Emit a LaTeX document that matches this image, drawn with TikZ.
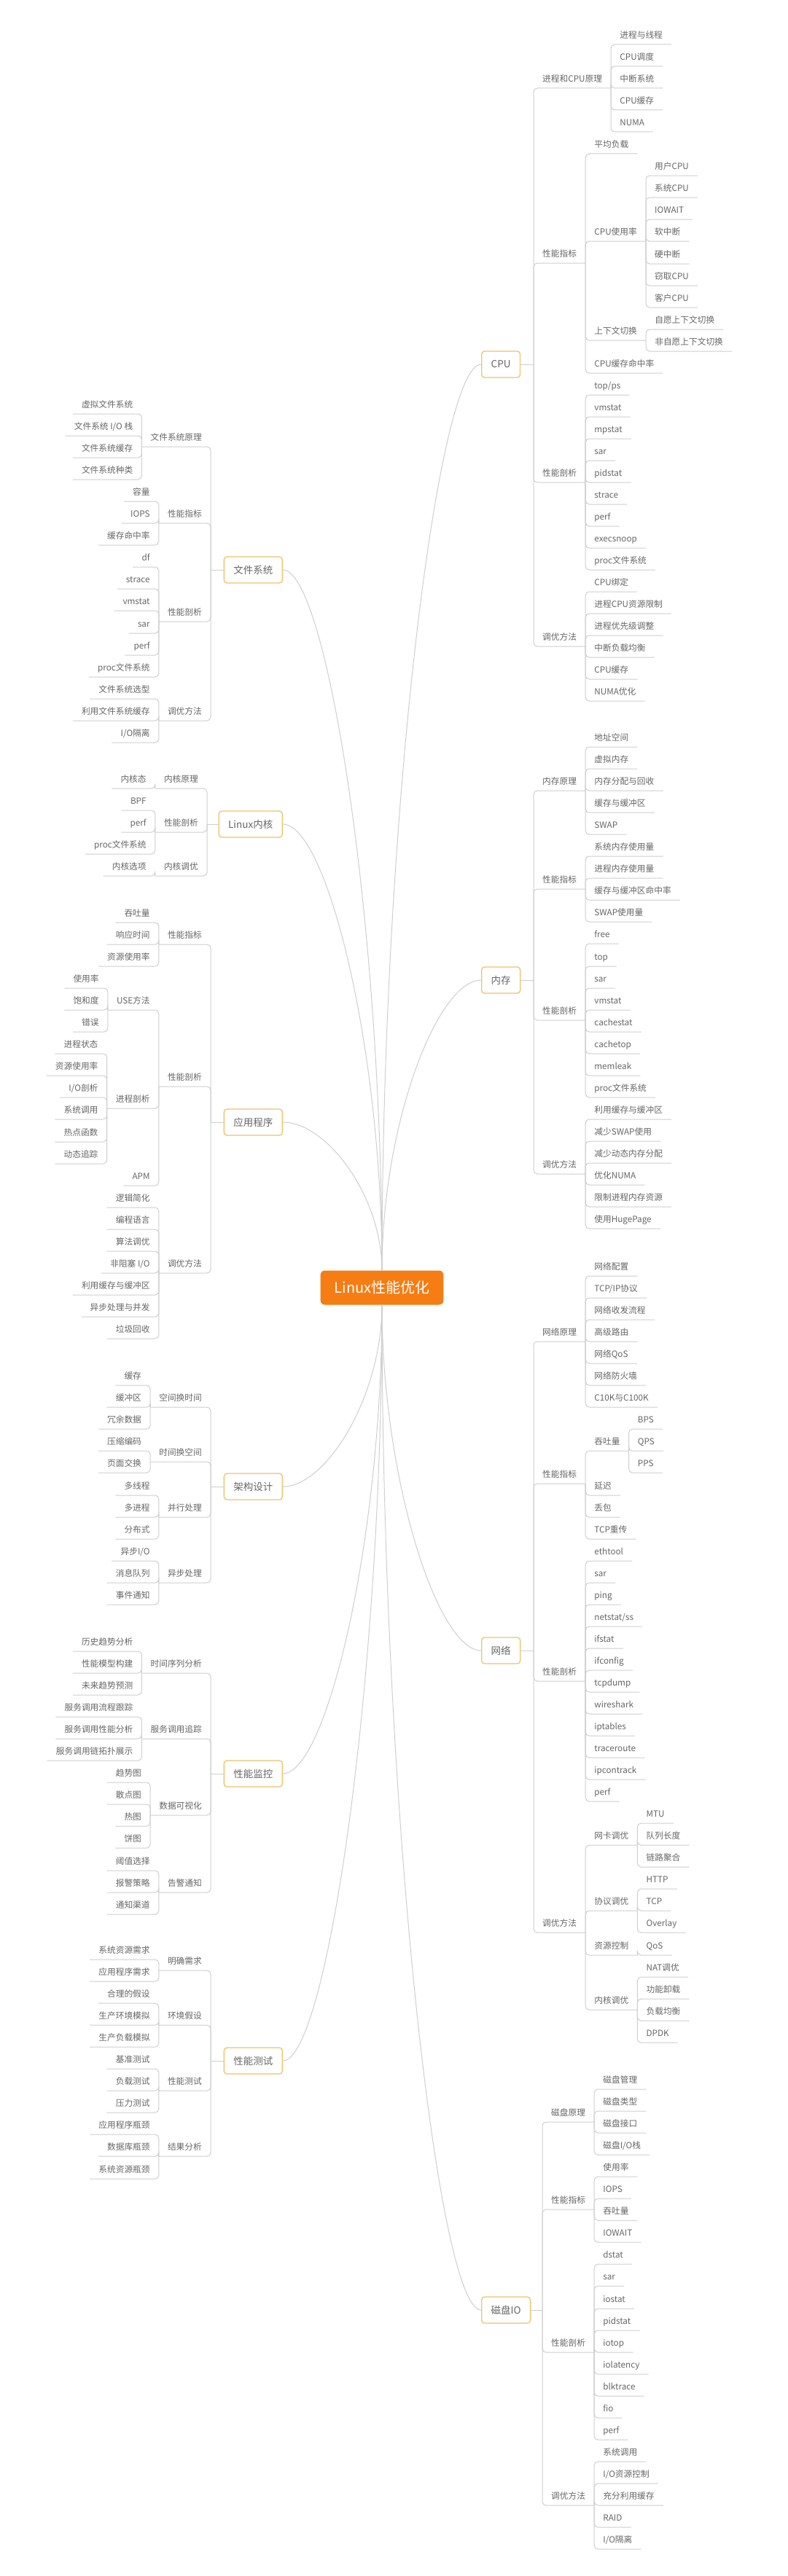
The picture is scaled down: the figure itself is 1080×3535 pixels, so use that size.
\documentclass[tikz,border=0pt]{standalone}
\usepackage{fontspec}
\setmainfont{Noto Sans CJK SC}
\usepackage{tikz}
\definecolor{txtgray}{HTML}{666666}
\definecolor{linegray}{HTML}{CFCFCF}
\definecolor{topicgold}{HTML}{F0C36A}
\definecolor{rootorange}{HTML}{F57D14}
\tikzset{root/.style={rounded corners=6pt,fill=rootorange,text=white,font=\fontsize{20}{24}\selectfont,minimum height=47pt,inner xsep=19pt}}
\tikzset{topic/.style={draw=topicgold,line width=1.3pt,rounded corners=4pt,fill=white,text=txtgray,font=\fontsize{13.5}{16}\selectfont,minimum height=36pt,inner xsep=13pt}}
\tikzset{item/.style={text=txtgray,font=\fontsize{11.7}{14}\selectfont,inner xsep=12pt,inner ysep=5pt,text height=9pt,text depth=3pt}}
\tikzset{ri/.style={item,anchor=south west},li/.style={item,anchor=south east}}
\tikzset{link/.style={draw=linegray,line width=1pt}}
\tikzset{rt/.style={rounded corners=5pt,to path={|- (\tikztotarget.south east)}},lt/.style={rounded corners=5pt,to path={|- (\tikztotarget.south west)}}}
\begin{document}
\begin{tikzpicture}[x=1pt,y=-1pt]
    \fill[white] (0,0) rectangle (1080,3535);
    \useasboundingbox (0,0) rectangle (1080,3535);

    \node[root] (root) at (524,1767) {Linux性能优化};

    % CPU
    \node[topic,anchor=west] (cpu) at (660,500) {CPU};
    \node[ri] (cpu1) at (732,121) {进程和CPU原理};
    \node[ri] (cpu1a) at (cpu1.south east |- 0,61) {进程与线程};
    \node[ri] (cpu1b) at (cpu1.south east |- 0,91) {CPU调度};
    \node[ri] (cpu1c) at (cpu1.south east |- 0,121) {中断系统};
    \node[ri] (cpu1d) at (cpu1.south east |- 0,151) {CPU缓存};
    \node[ri] (cpu1e) at (cpu1.south east |- 0,181) {NUMA};
    \node[ri] (cpu2) at (732,361) {性能指标};
    \node[ri] (cpu2a) at (cpu2.south east |- 0,211) {平均负载};
    \node[ri] (cpu2b) at (cpu2.south east |- 0,331) {CPU使用率};
    \node[ri] (cpu2ba) at (cpu2b.south east |- 0,241) {用户CPU};
    \node[ri] (cpu2bb) at (cpu2b.south east |- 0,271) {系统CPU};
    \node[ri] (cpu2bc) at (cpu2b.south east |- 0,301) {IOWAIT};
    \node[ri] (cpu2bd) at (cpu2b.south east |- 0,331) {软中断};
    \node[ri] (cpu2be) at (cpu2b.south east |- 0,362) {硬中断};
    \node[ri] (cpu2bf) at (cpu2b.south east |- 0,392) {窃取CPU};
    \node[ri] (cpu2bg) at (cpu2b.south east |- 0,422) {客户CPU};
    \node[ri] (cpu2c) at (cpu2.south east |- 0,467) {上下文切换};
    \node[ri] (cpu2ca) at (cpu2c.south east |- 0,452) {自愿上下文切换};
    \node[ri] (cpu2cb) at (cpu2c.south east |- 0,482) {非自愿上下文切换};
    \node[ri] (cpu2d) at (cpu2.south east |- 0,512) {CPU缓存命中率};
    \node[ri] (cpu3) at (732,662) {性能剖析};
    \node[ri] (cpu3a) at (cpu3.south east |- 0,542) {top/ps};
    \node[ri] (cpu3b) at (cpu3.south east |- 0,572) {vmstat};
    \node[ri] (cpu3c) at (cpu3.south east |- 0,602) {mpstat};
    \node[ri] (cpu3d) at (cpu3.south east |- 0,632) {sar};
    \node[ri] (cpu3e) at (cpu3.south east |- 0,662) {pidstat};
    \node[ri] (cpu3f) at (cpu3.south east |- 0,692) {strace};
    \node[ri] (cpu3g) at (cpu3.south east |- 0,722) {perf};
    \node[ri] (cpu3h) at (cpu3.south east |- 0,752) {execsnoop};
    \node[ri] (cpu3i) at (cpu3.south east |- 0,782) {proc文件系统};
    \node[ri] (cpu4) at (732,887) {调优方法};
    \node[ri] (cpu4a) at (cpu4.south east |- 0,812) {CPU绑定};
    \node[ri] (cpu4b) at (cpu4.south east |- 0,842) {进程CPU资源限制};
    \node[ri] (cpu4c) at (cpu4.south east |- 0,872) {进程优先级调整};
    \node[ri] (cpu4d) at (cpu4.south east |- 0,902) {中断负载均衡};
    \node[ri] (cpu4e) at (cpu4.south east |- 0,932) {CPU缓存};
    \node[ri] (cpu4f) at (cpu4.south east |- 0,962) {NUMA优化};

    % 内存
    \node[topic,anchor=west] (mem) at (660,1345) {内存};
    \node[ri] (mem1) at (732,1085) {内存原理};
    \node[ri] (mem1a) at (mem1.south east |- 0,1025) {地址空间};
    \node[ri] (mem1b) at (mem1.south east |- 0,1055) {虚拟内存};
    \node[ri] (mem1c) at (mem1.south east |- 0,1085) {内存分配与回收};
    \node[ri] (mem1d) at (mem1.south east |- 0,1115) {缓存与缓冲区};
    \node[ri] (mem1e) at (mem1.south east |- 0,1145) {SWAP};
    \node[ri] (mem2) at (732,1220) {性能指标};
    \node[ri] (mem2a) at (mem2.south east |- 0,1175) {系统内存使用量};
    \node[ri] (mem2b) at (mem2.south east |- 0,1205) {进程内存使用量};
    \node[ri] (mem2c) at (mem2.south east |- 0,1235) {缓存与缓冲区命中率};
    \node[ri] (mem2d) at (mem2.south east |- 0,1265) {SWAP使用量};
    \node[ri] (mem3) at (732,1400) {性能剖析};
    \node[ri] (mem3a) at (mem3.south east |- 0,1295) {free};
    \node[ri] (mem3b) at (mem3.south east |- 0,1326) {top};
    \node[ri] (mem3c) at (mem3.south east |- 0,1356) {sar};
    \node[ri] (mem3d) at (mem3.south east |- 0,1386) {vmstat};
    \node[ri] (mem3e) at (mem3.south east |- 0,1416) {cachestat};
    \node[ri] (mem3f) at (mem3.south east |- 0,1446) {cachetop};
    \node[ri] (mem3g) at (mem3.south east |- 0,1476) {memleak};
    \node[ri] (mem3h) at (mem3.south east |- 0,1506) {proc文件系统};
    \node[ri] (mem4) at (732,1611) {调优方法};
    \node[ri] (mem4a) at (mem4.south east |- 0,1536) {利用缓存与缓冲区};
    \node[ri] (mem4b) at (mem4.south east |- 0,1566) {减少SWAP使用};
    \node[ri] (mem4c) at (mem4.south east |- 0,1596) {减少动态内存分配};
    \node[ri] (mem4d) at (mem4.south east |- 0,1626) {优化NUMA};
    \node[ri] (mem4e) at (mem4.south east |- 0,1656) {限制进程内存资源};
    \node[ri] (mem4f) at (mem4.south east |- 0,1686) {使用HugePage};

    % 网络
    \node[topic,anchor=west] (net) at (660,2265) {网络};
    \node[ri] (net1) at (732,1841) {网络原理};
    \node[ri] (net1a) at (net1.south east |- 0,1751) {网络配置};
    \node[ri] (net1b) at (net1.south east |- 0,1781) {TCP/IP协议};
    \node[ri] (net1c) at (net1.south east |- 0,1811) {网络收发流程};
    \node[ri] (net1d) at (net1.south east |- 0,1841) {高级路由};
    \node[ri] (net1e) at (net1.south east |- 0,1871) {网络QoS};
    \node[ri] (net1f) at (net1.south east |- 0,1901) {网络防火墙};
    \node[ri] (net1g) at (net1.south east |- 0,1931) {C10K与C100K};
    \node[ri] (net2) at (732,2036) {性能指标};
    \node[ri] (net2a) at (net2.south east |- 0,1991) {吞吐量};
    \node[ri] (net2aa) at (net2a.south east |- 0,1961) {BPS};
    \node[ri] (net2ab) at (net2a.south east |- 0,1991) {QPS};
    \node[ri] (net2ac) at (net2a.south east |- 0,2021) {PPS};
    \node[ri] (net2b) at (net2.south east |- 0,2052) {延迟};
    \node[ri] (net2c) at (net2.south east |- 0,2082) {丢包};
    \node[ri] (net2d) at (net2.south east |- 0,2112) {TCP重传};
    \node[ri] (net3) at (732,2307) {性能剖析};
    \node[ri] (net3a) at (net3.south east |- 0,2142) {ethtool};
    \node[ri] (net3b) at (net3.south east |- 0,2172) {sar};
    \node[ri] (net3c) at (net3.south east |- 0,2202) {ping};
    \node[ri] (net3d) at (net3.south east |- 0,2232) {netstat/ss};
    \node[ri] (net3e) at (net3.south east |- 0,2262) {ifstat};
    \node[ri] (net3f) at (net3.south east |- 0,2292) {ifconfig};
    \node[ri] (net3g) at (net3.south east |- 0,2322) {tcpdump};
    \node[ri] (net3h) at (net3.south east |- 0,2352) {wireshark};
    \node[ri] (net3i) at (net3.south east |- 0,2382) {iptables};
    \node[ri] (net3j) at (net3.south east |- 0,2412) {traceroute};
    \node[ri] (net3k) at (net3.south east |- 0,2442) {ipcontrack};
    \node[ri] (net3l) at (net3.south east |- 0,2472) {perf};
    \node[ri] (net4) at (732,2652) {调优方法};
    \node[ri] (net4a) at (net4.south east |- 0,2532) {网卡调优};
    \node[ri] (net4aa) at (net4a.south east |- 0,2502) {MTU};
    \node[ri] (net4ab) at (net4a.south east |- 0,2532) {队列长度};
    \node[ri] (net4ac) at (net4a.south east |- 0,2562) {链路聚合};
    \node[ri] (net4b) at (net4.south east |- 0,2622) {协议调优};
    \node[ri] (net4ba) at (net4b.south east |- 0,2592) {HTTP};
    \node[ri] (net4bb) at (net4b.south east |- 0,2622) {TCP};
    \node[ri] (net4bc) at (net4b.south east |- 0,2652) {Overlay};
    \node[ri] (net4c) at (net4.south east |- 0,2683) {资源控制};
    \node[ri] (net4ca) at (net4c.south east |- 0,2683) {QoS};
    \node[ri] (net4d) at (net4.south east |- 0,2758) {内核调优};
    \node[ri] (net4da) at (net4d.south east |- 0,2713) {NAT调优};
    \node[ri] (net4db) at (net4d.south east |- 0,2743) {功能卸载};
    \node[ri] (net4dc) at (net4d.south east |- 0,2773) {负载均衡};
    \node[ri] (net4dd) at (net4d.south east |- 0,2803) {DPDK};

    % 磁盘IO
    \node[topic,anchor=west] (disk) at (660,3170) {磁盘IO};
    \node[ri] (disk1) at (744,2912) {磁盘原理};
    \node[ri] (disk1a) at (disk1.south east |- 0,2867) {磁盘管理};
    \node[ri] (disk1b) at (disk1.south east |- 0,2897) {磁盘类型};
    \node[ri] (disk1c) at (disk1.south east |- 0,2927) {磁盘接口};
    \node[ri] (disk1d) at (disk1.south east |- 0,2957) {磁盘I/O栈};
    \node[ri] (disk2) at (744,3032) {性能指标};
    \node[ri] (disk2a) at (disk2.south east |- 0,2987) {使用率};
    \node[ri] (disk2b) at (disk2.south east |- 0,3017) {IOPS};
    \node[ri] (disk2c) at (disk2.south east |- 0,3047) {吞吐量};
    \node[ri] (disk2d) at (disk2.south east |- 0,3077) {IOWAIT};
    \node[ri] (disk3) at (744,3228) {性能剖析};
    \node[ri] (disk3a) at (disk3.south east |- 0,3107) {dstat};
    \node[ri] (disk3b) at (disk3.south east |- 0,3137) {sar};
    \node[ri] (disk3c) at (disk3.south east |- 0,3168) {iostat};
    \node[ri] (disk3d) at (disk3.south east |- 0,3198) {pidstat};
    \node[ri] (disk3e) at (disk3.south east |- 0,3228) {iotop};
    \node[ri] (disk3f) at (disk3.south east |- 0,3258) {iolatency};
    \node[ri] (disk3g) at (disk3.south east |- 0,3288) {blktrace};
    \node[ri] (disk3h) at (disk3.south east |- 0,3318) {fio};
    \node[ri] (disk3i) at (disk3.south east |- 0,3348) {perf};
    \node[ri] (disk4) at (744,3438) {调优方法};
    \node[ri] (disk4a) at (disk4.south east |- 0,3378) {系统调用};
    \node[ri] (disk4b) at (disk4.south east |- 0,3408) {I/O资源控制};
    \node[ri] (disk4c) at (disk4.south east |- 0,3438) {充分利用缓存};
    \node[ri] (disk4d) at (disk4.south east |- 0,3468) {RAID};
    \node[ri] (disk4e) at (disk4.south east |- 0,3498) {I/O隔离};

    % 文件系统
    \node[topic,anchor=east] (fs) at (388,782) {文件系统};
    \node[li] (fs1) at (289,613) {文件系统原理};
    \node[li] (fs1a) at (fs1.south west |- 0,568) {虚拟文件系统};
    \node[li] (fs1b) at (fs1.south west |- 0,598) {文件系统 I/O 栈};
    \node[li] (fs1c) at (fs1.south west |- 0,628) {文件系统缓存};
    \node[li] (fs1d) at (fs1.south west |- 0,658) {文件系统种类};
    \node[li] (fs2) at (289,718) {性能指标};
    \node[li] (fs2a) at (fs2.south west |- 0,688) {容量};
    \node[li] (fs2b) at (fs2.south west |- 0,718) {IOPS};
    \node[li] (fs2c) at (fs2.south west |- 0,748) {缓存命中率};
    \node[li] (fs3) at (289,853) {性能剖析};
    \node[li] (fs3a) at (fs3.south west |- 0,778) {df};
    \node[li] (fs3b) at (fs3.south west |- 0,808) {strace};
    \node[li] (fs3c) at (fs3.south west |- 0,838) {vmstat};
    \node[li] (fs3d) at (fs3.south west |- 0,869) {sar};
    \node[li] (fs3e) at (fs3.south west |- 0,899) {perf};
    \node[li] (fs3f) at (fs3.south west |- 0,929) {proc文件系统};
    \node[li] (fs4) at (289,989) {调优方法};
    \node[li] (fs4a) at (fs4.south west |- 0,959) {文件系统选型};
    \node[li] (fs4b) at (fs4.south west |- 0,989) {利用文件系统缓存};
    \node[li] (fs4c) at (fs4.south west |- 0,1019) {I/O隔离};

    % Linux内核
    \node[topic,anchor=east] (kern) at (388,1131) {Linux内核};
    \node[li] (kern1) at (284,1082) {内核原理};
    \node[li] (kern1a) at (kern1.south west |- 0,1082) {内核态};
    \node[li] (kern2) at (284,1142) {性能剖析};
    \node[li] (kern2a) at (kern2.south west |- 0,1112) {BPF};
    \node[li] (kern2b) at (kern2.south west |- 0,1142) {perf};
    \node[li] (kern2c) at (kern2.south west |- 0,1172) {proc文件系统};
    \node[li] (kern3) at (284,1202) {内核调优};
    \node[li] (kern3a) at (kern3.south west |- 0,1202) {内核选项};

    % 应用程序
    \node[topic,anchor=east] (app) at (388,1540) {应用程序};
    \node[li] (app1) at (289,1296) {性能指标};
    \node[li] (app1a) at (app1.south west |- 0,1266) {吞吐量};
    \node[li] (app1b) at (app1.south west |- 0,1296) {响应时间};
    \node[li] (app1c) at (app1.south west |- 0,1326) {资源使用率};
    \node[li] (app2) at (289,1491) {性能剖析};
    \node[li] (app2a) at (app2.south west |- 0,1386) {USE方法};
    \node[li] (app2aa) at (app2a.south west |- 0,1356) {使用率};
    \node[li] (app2ab) at (app2a.south west |- 0,1386) {饱和度};
    \node[li] (app2ac) at (app2a.south west |- 0,1416) {错误};
    \node[li] (app2b) at (app2.south west |- 0,1521) {进程剖析};
    \node[li] (app2ba) at (app2b.south west |- 0,1446) {进程状态};
    \node[li] (app2bb) at (app2b.south west |- 0,1476) {资源使用率};
    \node[li] (app2bc) at (app2b.south west |- 0,1506) {I/O剖析};
    \node[li] (app2bd) at (app2b.south west |- 0,1536) {系统调用};
    \node[li] (app2be) at (app2b.south west |- 0,1567) {热点函数};
    \node[li] (app2bf) at (app2b.south west |- 0,1597) {动态追踪};
    \node[li] (app2c) at (app2.south west |- 0,1627) {APM};
    \node[li] (app3) at (289,1747) {调优方法};
    \node[li] (app3a) at (app3.south west |- 0,1657) {逻辑简化};
    \node[li] (app3b) at (app3.south west |- 0,1687) {编程语言};
    \node[li] (app3c) at (app3.south west |- 0,1717) {算法调优};
    \node[li] (app3d) at (app3.south west |- 0,1747) {非阻塞 I/O};
    \node[li] (app3e) at (app3.south west |- 0,1777) {利用缓存与缓冲区};
    \node[li] (app3f) at (app3.south west |- 0,1807) {异步处理与并发};
    \node[li] (app3g) at (app3.south west |- 0,1837) {垃圾回收};

    % 架构设计
    \node[topic,anchor=east] (arch) at (388,2040) {架构设计};
    \node[li] (arch1) at (289,1931) {空间换时间};
    \node[li] (arch1a) at (arch1.south west |- 0,1901) {缓存};
    \node[li] (arch1b) at (arch1.south west |- 0,1931) {缓冲区};
    \node[li] (arch1c) at (arch1.south west |- 0,1961) {冗余数据};
    \node[li] (arch2) at (289,2006) {时间换空间};
    \node[li] (arch2a) at (arch2.south west |- 0,1991) {压缩编码};
    \node[li] (arch2b) at (arch2.south west |- 0,2021) {页面交换};
    \node[li] (arch3) at (289,2082) {并行处理};
    \node[li] (arch3a) at (arch3.south west |- 0,2052) {多线程};
    \node[li] (arch3b) at (arch3.south west |- 0,2082) {多进程};
    \node[li] (arch3c) at (arch3.south west |- 0,2112) {分布式};
    \node[li] (arch4) at (289,2172) {异步处理};
    \node[li] (arch4a) at (arch4.south west |- 0,2142) {异步I/O};
    \node[li] (arch4b) at (arch4.south west |- 0,2172) {消息队列};
    \node[li] (arch4c) at (arch4.south west |- 0,2202) {事件通知};

    % 性能监控
    \node[topic,anchor=east] (mon) at (388,2434) {性能监控};
    \node[li] (mon1) at (289,2296) {时间序列分析};
    \node[li] (mon1a) at (mon1.south west |- 0,2266) {历史趋势分析};
    \node[li] (mon1b) at (mon1.south west |- 0,2296) {性能模型构建};
    \node[li] (mon1c) at (mon1.south west |- 0,2326) {未来趋势预测};
    \node[li] (mon2) at (289,2386) {服务调用追踪};
    \node[li] (mon2a) at (mon2.south west |- 0,2356) {服务调用流程跟踪};
    \node[li] (mon2b) at (mon2.south west |- 0,2386) {服务调用性能分析};
    \node[li] (mon2c) at (mon2.south west |- 0,2416) {服务调用链拓扑展示};
    \node[li] (mon3) at (289,2491) {数据可视化};
    \node[li] (mon3a) at (mon3.south west |- 0,2446) {趋势图};
    \node[li] (mon3b) at (mon3.south west |- 0,2476) {散点图};
    \node[li] (mon3c) at (mon3.south west |- 0,2506) {热图};
    \node[li] (mon3d) at (mon3.south west |- 0,2536) {饼图};
    \node[li] (mon4) at (289,2597) {告警通知};
    \node[li] (mon4a) at (mon4.south west |- 0,2567) {阈值选择};
    \node[li] (mon4b) at (mon4.south west |- 0,2597) {报警策略};
    \node[li] (mon4c) at (mon4.south west |- 0,2627) {通知渠道};

    % 性能测试
    \node[topic,anchor=east] (test) at (388,2828) {性能测试};
    \node[li] (test1) at (289,2704) {明确需求};
    \node[li] (test1a) at (test1.south west |- 0,2689) {系统资源需求};
    \node[li] (test1b) at (test1.south west |- 0,2719) {应用程序需求};
    \node[li] (test2) at (289,2779) {环境假设};
    \node[li] (test2a) at (test2.south west |- 0,2749) {合理的假设};
    \node[li] (test2b) at (test2.south west |- 0,2779) {生产环境模拟};
    \node[li] (test2c) at (test2.south west |- 0,2809) {生产负载模拟};
    \node[li] (test3) at (289,2869) {性能测试};
    \node[li] (test3a) at (test3.south west |- 0,2839) {基准测试};
    \node[li] (test3b) at (test3.south west |- 0,2869) {负载测试};
    \node[li] (test3c) at (test3.south west |- 0,2899) {压力测试};
    \node[li] (test4) at (289,2959) {结果分析};
    \node[li] (test4a) at (test4.south west |- 0,2929) {应用程序瓶颈};
    \node[li] (test4b) at (test4.south west |- 0,2959) {数据库瓶颈};
    \node[li] (test4c) at (test4.south west |- 0,2990) {系统资源瓶颈};

    % root to topics
    \draw[link] (root.north) .. controls +(0,-622) and +(-60,0) .. (cpu.west);
    \draw[link] (root.north) .. controls +(0,-200) and +(-60,0) .. (mem.west);
    \draw[link] (root.north) .. controls +(0,-481) and +(60,0) .. (fs.east);
    \draw[link] (root.north) .. controls +(0,-306) and +(60,0) .. (kern.east);
    \draw[link] (root.north) .. controls +(0,-102) and +(60,0) .. (app.east);
    \draw[link] (root.south) .. controls +(0,125) and +(60,0) .. (arch.east);
    \draw[link] (root.south) .. controls +(0,237) and +(-60,0) .. (net.west);
    \draw[link] (root.south) .. controls +(0,322) and +(60,0) .. (mon.east);
    \draw[link] (root.south) .. controls +(0,519) and +(60,0) .. (test.east);
    \draw[link] (root.south) .. controls +(0,690) and +(-60,0) .. (disk.west);

    % CPU links
    \draw[link] (cpu.east) -- (cpu.east -| cpu1.south west) edge[rt] (cpu1) edge[rt] (cpu2) edge[rt] (cpu3) edge[rt] (cpu4);
    \draw[link] (cpu1.south east) edge[rt] (cpu1a) edge[rt] (cpu1b) edge[rt] (cpu1c) edge[rt] (cpu1d) edge[rt] (cpu1e);
    \draw[link] (cpu2.south east) edge[rt] (cpu2a) edge[rt] (cpu2b) edge[rt] (cpu2c) edge[rt] (cpu2d);
    \draw[link] (cpu2b.south east) edge[rt] (cpu2ba) edge[rt] (cpu2bb) edge[rt] (cpu2bc) edge[rt] (cpu2bd) edge[rt] (cpu2be) edge[rt] (cpu2bf) edge[rt] (cpu2bg);
    \draw[link] (cpu2c.south east) edge[rt] (cpu2ca) edge[rt] (cpu2cb);
    \draw[link] (cpu3.south east) edge[rt] (cpu3a) edge[rt] (cpu3b) edge[rt] (cpu3c) edge[rt] (cpu3d) edge[rt] (cpu3e) edge[rt] (cpu3f) edge[rt] (cpu3g) edge[rt] (cpu3h) edge[rt] (cpu3i);
    \draw[link] (cpu4.south east) edge[rt] (cpu4a) edge[rt] (cpu4b) edge[rt] (cpu4c) edge[rt] (cpu4d) edge[rt] (cpu4e) edge[rt] (cpu4f);

    % 内存 links
    \draw[link] (mem.east) -- (mem.east -| mem1.south west) edge[rt] (mem1) edge[rt] (mem2) edge[rt] (mem3) edge[rt] (mem4);
    \draw[link] (mem1.south east) edge[rt] (mem1a) edge[rt] (mem1b) edge[rt] (mem1c) edge[rt] (mem1d) edge[rt] (mem1e);
    \draw[link] (mem2.south east) edge[rt] (mem2a) edge[rt] (mem2b) edge[rt] (mem2c) edge[rt] (mem2d);
    \draw[link] (mem3.south east) edge[rt] (mem3a) edge[rt] (mem3b) edge[rt] (mem3c) edge[rt] (mem3d) edge[rt] (mem3e) edge[rt] (mem3f) edge[rt] (mem3g) edge[rt] (mem3h);
    \draw[link] (mem4.south east) edge[rt] (mem4a) edge[rt] (mem4b) edge[rt] (mem4c) edge[rt] (mem4d) edge[rt] (mem4e) edge[rt] (mem4f);

    % 网络 links
    \draw[link] (net.east) -- (net.east -| net1.south west) edge[rt] (net1) edge[rt] (net2) edge[rt] (net3) edge[rt] (net4);
    \draw[link] (net1.south east) edge[rt] (net1a) edge[rt] (net1b) edge[rt] (net1c) edge[rt] (net1d) edge[rt] (net1e) edge[rt] (net1f) edge[rt] (net1g);
    \draw[link] (net2.south east) edge[rt] (net2a) edge[rt] (net2b) edge[rt] (net2c) edge[rt] (net2d);
    \draw[link] (net2a.south east) edge[rt] (net2aa) edge[rt] (net2ab) edge[rt] (net2ac);
    \draw[link] (net3.south east) edge[rt] (net3a) edge[rt] (net3b) edge[rt] (net3c) edge[rt] (net3d) edge[rt] (net3e) edge[rt] (net3f) edge[rt] (net3g) edge[rt] (net3h) edge[rt] (net3i) edge[rt] (net3j) edge[rt] (net3k) edge[rt] (net3l);
    \draw[link] (net4.south east) edge[rt] (net4a) edge[rt] (net4b) edge[rt] (net4c) edge[rt] (net4d);
    \draw[link] (net4a.south east) edge[rt] (net4aa) edge[rt] (net4ab) edge[rt] (net4ac);
    \draw[link] (net4b.south east) edge[rt] (net4ba) edge[rt] (net4bb) edge[rt] (net4bc);
    \draw[link] (net4c.south east) edge[rt] (net4ca);
    \draw[link] (net4d.south east) edge[rt] (net4da) edge[rt] (net4db) edge[rt] (net4dc) edge[rt] (net4dd);

    % 磁盘IO links
    \draw[link] (disk.east) -- (disk.east -| disk1.south west) edge[rt] (disk1) edge[rt] (disk2) edge[rt] (disk3) edge[rt] (disk4);
    \draw[link] (disk1.south east) edge[rt] (disk1a) edge[rt] (disk1b) edge[rt] (disk1c) edge[rt] (disk1d);
    \draw[link] (disk2.south east) edge[rt] (disk2a) edge[rt] (disk2b) edge[rt] (disk2c) edge[rt] (disk2d);
    \draw[link] (disk3.south east) edge[rt] (disk3a) edge[rt] (disk3b) edge[rt] (disk3c) edge[rt] (disk3d) edge[rt] (disk3e) edge[rt] (disk3f) edge[rt] (disk3g) edge[rt] (disk3h) edge[rt] (disk3i);
    \draw[link] (disk4.south east) edge[rt] (disk4a) edge[rt] (disk4b) edge[rt] (disk4c) edge[rt] (disk4d) edge[rt] (disk4e);

    % 文件系统 links
    \draw[link] (fs.west) -- (fs.west -| fs1.south east) edge[lt] (fs1) edge[lt] (fs2) edge[lt] (fs3) edge[lt] (fs4);
    \draw[link] (fs1.south west) edge[lt] (fs1a) edge[lt] (fs1b) edge[lt] (fs1c) edge[lt] (fs1d);
    \draw[link] (fs2.south west) edge[lt] (fs2a) edge[lt] (fs2b) edge[lt] (fs2c);
    \draw[link] (fs3.south west) edge[lt] (fs3a) edge[lt] (fs3b) edge[lt] (fs3c) edge[lt] (fs3d) edge[lt] (fs3e) edge[lt] (fs3f);
    \draw[link] (fs4.south west) edge[lt] (fs4a) edge[lt] (fs4b) edge[lt] (fs4c);

    % Linux内核 links
    \draw[link] (kern.west) -- (kern.west -| kern1.south east) edge[lt] (kern1) edge[lt] (kern2) edge[lt] (kern3);
    \draw[link] (kern1.south west) edge[lt] (kern1a);
    \draw[link] (kern2.south west) edge[lt] (kern2a) edge[lt] (kern2b) edge[lt] (kern2c);
    \draw[link] (kern3.south west) edge[lt] (kern3a);

    % 应用程序 links
    \draw[link] (app.west) -- (app.west -| app1.south east) edge[lt] (app1) edge[lt] (app2) edge[lt] (app3);
    \draw[link] (app1.south west) edge[lt] (app1a) edge[lt] (app1b) edge[lt] (app1c);
    \draw[link] (app2.south west) edge[lt] (app2a) edge[lt] (app2b) edge[lt] (app2c);
    \draw[link] (app2a.south west) edge[lt] (app2aa) edge[lt] (app2ab) edge[lt] (app2ac);
    \draw[link] (app2b.south west) edge[lt] (app2ba) edge[lt] (app2bb) edge[lt] (app2bc) edge[lt] (app2bd) edge[lt] (app2be) edge[lt] (app2bf);
    \draw[link] (app3.south west) edge[lt] (app3a) edge[lt] (app3b) edge[lt] (app3c) edge[lt] (app3d) edge[lt] (app3e) edge[lt] (app3f) edge[lt] (app3g);

    % 架构设计 links
    \draw[link] (arch.west) -- (arch.west -| arch1.south east) edge[lt] (arch1) edge[lt] (arch2) edge[lt] (arch3) edge[lt] (arch4);
    \draw[link] (arch1.south west) edge[lt] (arch1a) edge[lt] (arch1b) edge[lt] (arch1c);
    \draw[link] (arch2.south west) edge[lt] (arch2a) edge[lt] (arch2b);
    \draw[link] (arch3.south west) edge[lt] (arch3a) edge[lt] (arch3b) edge[lt] (arch3c);
    \draw[link] (arch4.south west) edge[lt] (arch4a) edge[lt] (arch4b) edge[lt] (arch4c);

    % 性能监控 links
    \draw[link] (mon.west) -- (mon.west -| mon1.south east) edge[lt] (mon1) edge[lt] (mon2) edge[lt] (mon3) edge[lt] (mon4);
    \draw[link] (mon1.south west) edge[lt] (mon1a) edge[lt] (mon1b) edge[lt] (mon1c);
    \draw[link] (mon2.south west) edge[lt] (mon2a) edge[lt] (mon2b) edge[lt] (mon2c);
    \draw[link] (mon3.south west) edge[lt] (mon3a) edge[lt] (mon3b) edge[lt] (mon3c) edge[lt] (mon3d);
    \draw[link] (mon4.south west) edge[lt] (mon4a) edge[lt] (mon4b) edge[lt] (mon4c);

    % 性能测试 links
    \draw[link] (test.west) -- (test.west -| test1.south east) edge[lt] (test1) edge[lt] (test2) edge[lt] (test3) edge[lt] (test4);
    \draw[link] (test1.south west) edge[lt] (test1a) edge[lt] (test1b);
    \draw[link] (test2.south west) edge[lt] (test2a) edge[lt] (test2b) edge[lt] (test2c);
    \draw[link] (test3.south west) edge[lt] (test3a) edge[lt] (test3b) edge[lt] (test3c);
    \draw[link] (test4.south west) edge[lt] (test4a) edge[lt] (test4b) edge[lt] (test4c);
\end{tikzpicture}
\end{document}
